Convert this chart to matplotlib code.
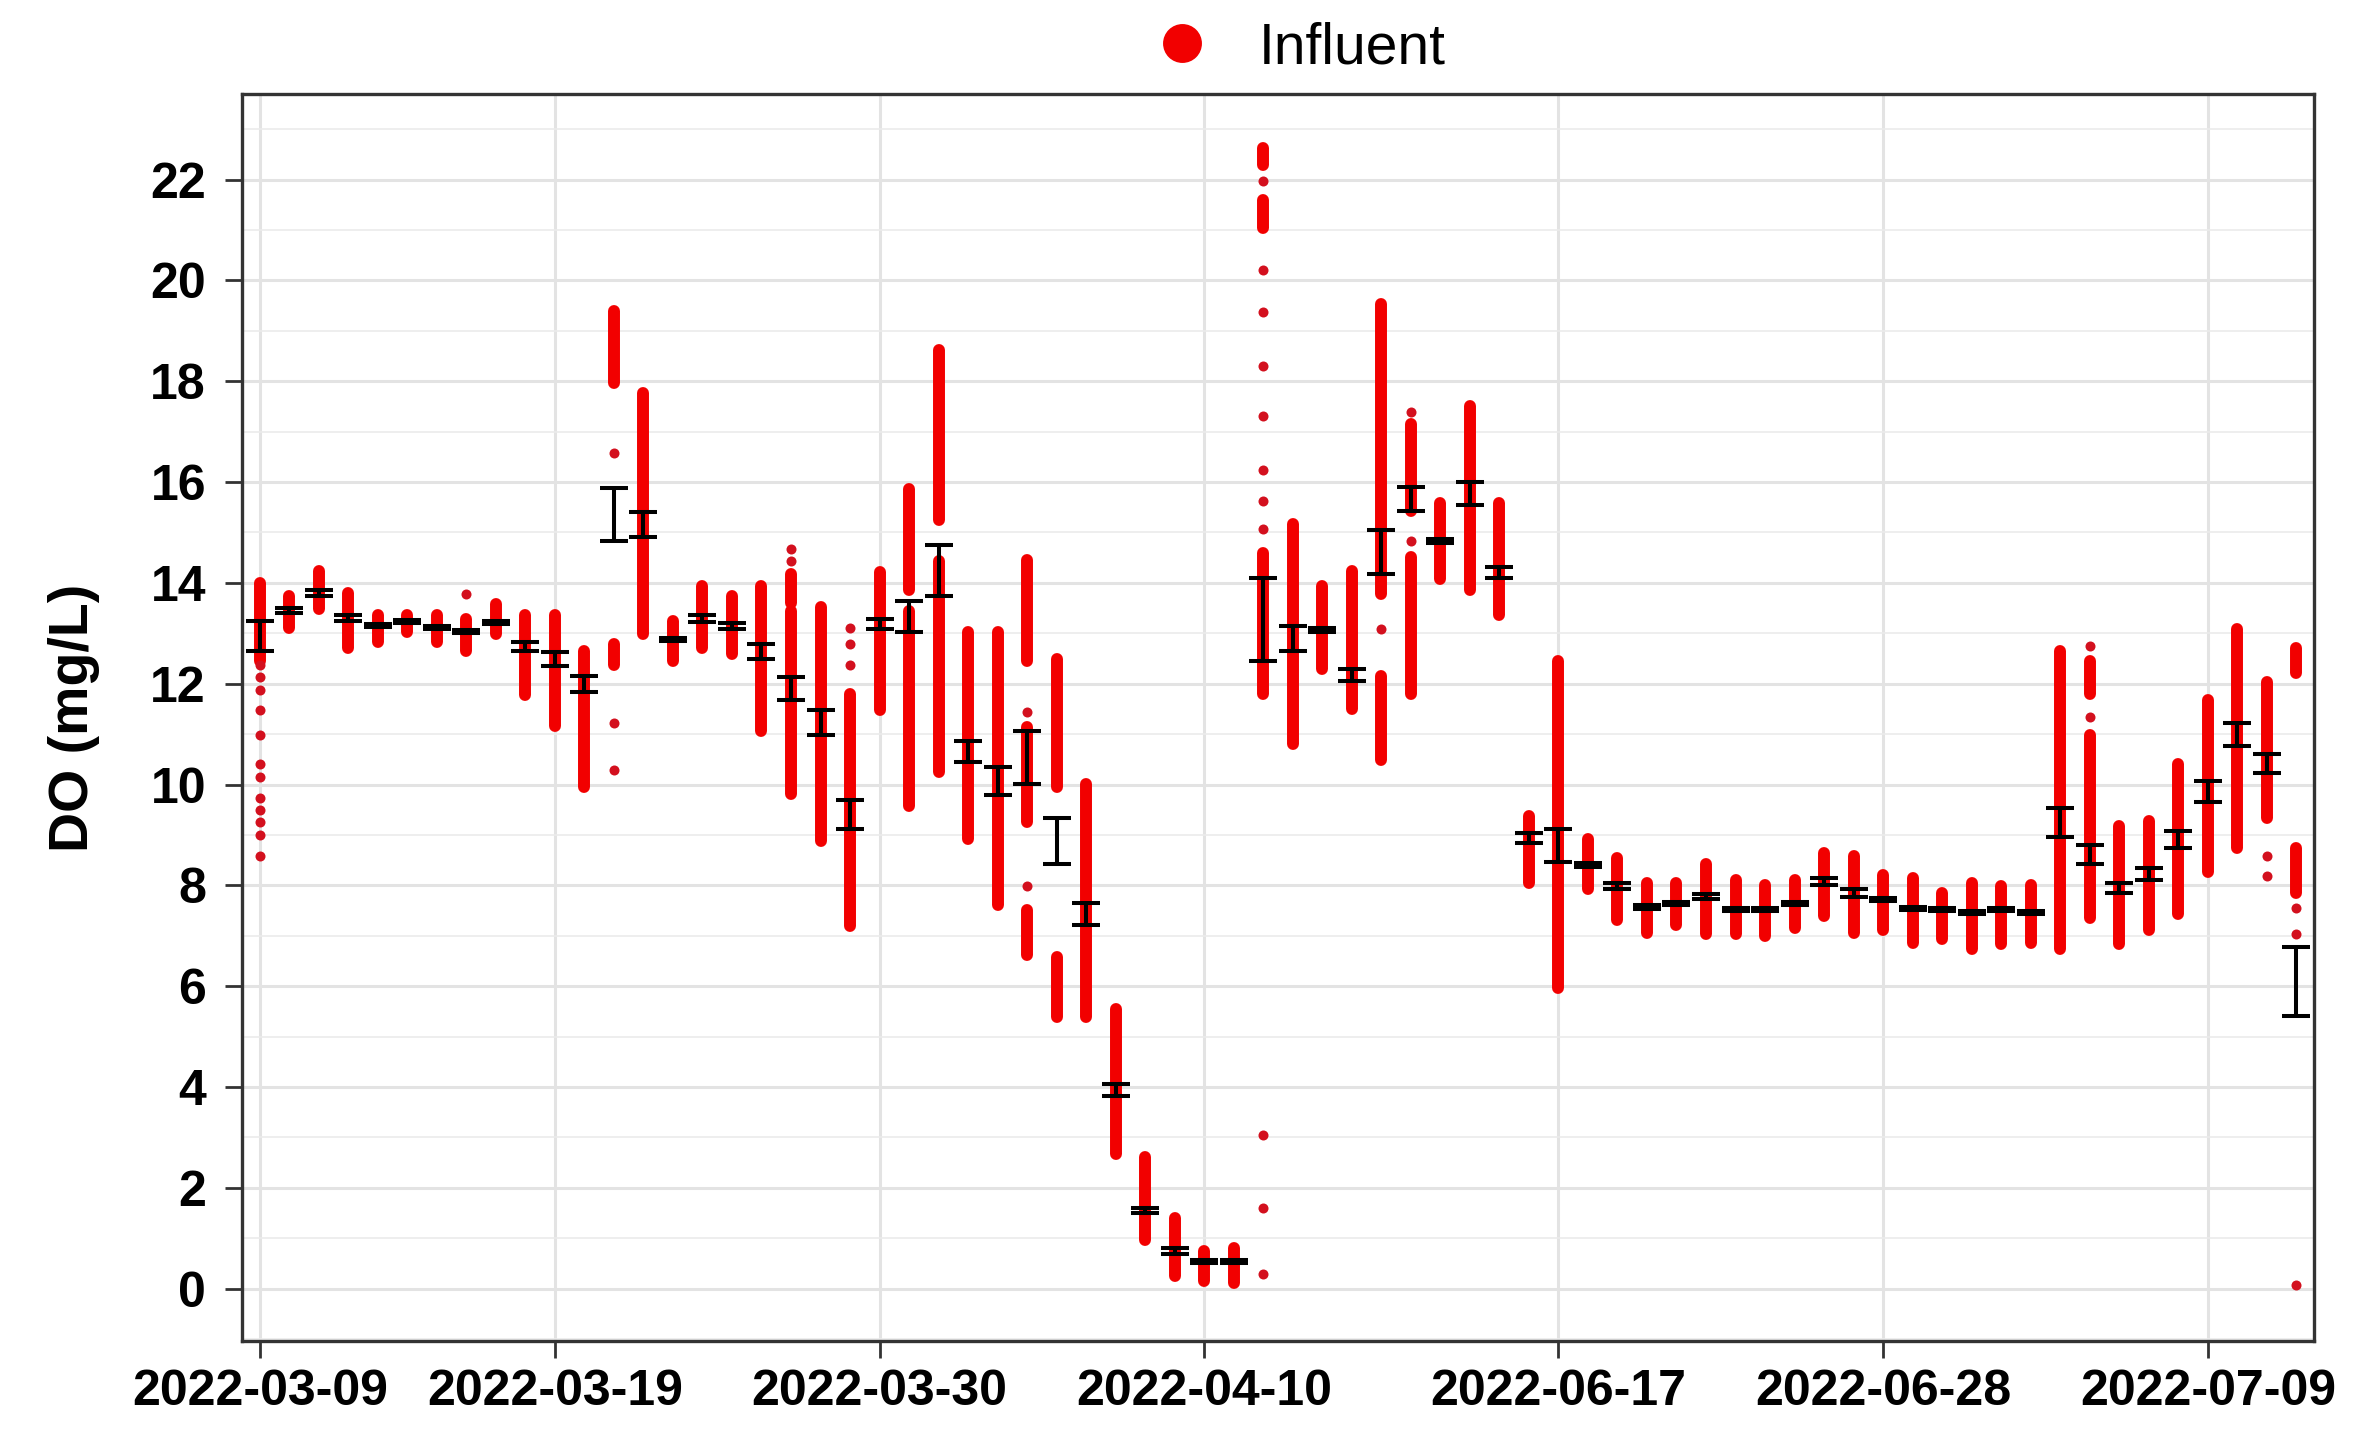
import numpy as np
import pandas as pd
import matplotlib
matplotlib.use("Agg")
import matplotlib.pyplot as plt
from matplotlib.lines import Line2D

plt.rcParams['font.family'] = ['Liberation Sans', 'DejaVu Sans']

# sampling days (categorical axis, gap between April and June)
days = list(pd.date_range('2022-03-09', '2022-04-21').strftime('%Y-%m-%d')) + \
       list(pd.date_range('2022-06-17', '2022-07-12').strftime('%Y-%m-%d'))
tick_labels = ['2022-03-09', '2022-03-19', '2022-03-30', '2022-04-10',
               '2022-06-17', '2022-06-28', '2022-07-09']

# dense runs of measurements (day index, low, high) in mg/L
strip_day = [0, 1, 2, 3, 4, 5, 6, 7, 8, 9, 10, 11, 12, 12, 13, 14, 15, 16, 17, 18, 18,
             19, 20, 21, 22, 22, 23, 23, 24, 25, 26, 26, 26, 27, 27, 28, 29, 30, 31, 32,
             33, 34, 34, 34, 35, 36, 37, 38, 38, 39, 39, 40, 41, 42, 43, 44, 45, 46, 47, 48,
             49, 50, 51, 52, 53, 54, 55, 56, 57, 58, 59, 60, 61, 62, 62, 63, 64, 65, 66,
             67, 68, 69, 69]
strip_lo = [12.45, 13.1, 13.48, 12.7, 12.82, 13.03, 12.82, 12.65, 12.98, 11.77, 11.17,
            9.96, 17.97, 12.37, 12.98, 12.46, 12.7, 12.59, 11.06, 13.61, 9.82,
            8.87, 7.19, 11.47, 13.85, 9.58, 15.25, 10.24, 8.92, 7.6, 12.46, 9.25, 6.61,
            9.96, 5.38, 5.38, 2.67, 0.97, 0.25, 0.15,
            0.12, 22.3, 21.05, 11.8, 10.81, 12.29, 11.5, 13.77, 10.48, 15.42, 11.8, 14.07,
            13.86, 13.36, 8.05, 5.96, 7.93, 7.32, 7.06, 7.22,
            7.03, 7.03, 6.99, 7.16, 7.39, 7.06, 7.11, 6.86, 6.94, 6.73, 6.83, 6.86,
            6.73, 11.8, 7.36, 6.83, 7.11, 7.44, 8.26,
            8.75, 9.33, 12.21, 7.85]
strip_hi = [14.0, 13.74, 14.23, 13.8, 13.36, 13.36, 13.36, 13.28, 13.58, 13.36, 13.36,
            12.65, 19.4, 12.79, 17.76, 13.25, 13.94, 13.74, 13.94, 14.18, 13.44,
            13.53, 11.8, 14.22, 15.86, 13.44, 18.63, 14.43, 13.03, 13.03, 14.46, 11.14, 7.52,
            12.49, 6.57, 10.02, 5.55, 2.62, 1.4, 0.74,
            0.81, 22.62, 21.6, 14.6, 15.17, 13.94, 14.23, 19.53, 12.16, 17.15, 14.51, 15.58,
            17.51, 15.58, 9.38, 12.46, 8.92, 8.54, 8.05, 8.05,
            8.43, 8.1, 8.01, 8.1, 8.64, 8.59, 8.21, 8.15, 7.85, 8.05, 7.98, 8.01,
            12.65, 12.46, 10.98, 9.17, 9.28, 10.4, 11.67,
            13.08, 12.03, 12.7, 8.75]

# isolated measurements
dot_day = [0] * 12 + [7, 12, 12, 12, 18, 18, 20, 20, 20, 26, 26] + [34] * 11 + \
          [38, 39, 39, 62, 62, 68, 68, 69, 69, 69]
dot_val = [12.37, 12.13, 11.88, 11.47, 10.98, 10.4, 10.15, 9.74, 9.49, 9.25, 9.0, 8.59,
           13.77, 16.57, 11.22, 10.28, 14.68, 14.43, 13.11, 12.79, 12.37, 11.44, 7.98,
           21.97, 20.2, 19.37, 18.3, 17.31, 16.24, 15.62, 15.06, 3.04, 1.6, 0.28,
           13.08, 17.39, 14.84, 12.74, 11.34, 8.59, 8.18, 7.55, 7.03, 0.08]

# daily confidence interval of the mean
ci_low = [12.65, 13.4, 13.75, 13.25, 13.12, 13.2, 13.08, 13.0, 13.18, 12.65,
          12.36, 11.83, 14.84, 14.91, 12.84, 13.23, 13.08, 12.49, 11.67, 10.98,
          9.12, 13.08, 13.03, 13.74, 10.45, 9.79, 10.02, 8.43, 7.22, 3.82,
          1.5, 0.69, 0.5, 0.5, 12.46, 12.65, 13.03, 12.05, 14.18, 15.42,
          14.8, 15.55, 14.1, 8.84, 8.47, 8.36, 7.92, 7.54, 7.61, 7.72,
          7.5, 7.49, 7.61, 8.01, 7.77, 7.69, 7.52, 7.49, 7.44, 7.49,
          7.44, 8.95, 8.43, 7.85, 8.1, 8.75, 9.66, 10.76, 10.22, 5.41]
ci_high = [13.25, 13.5, 13.85, 13.36, 13.18, 13.26, 13.14, 13.06, 13.24, 12.82,
           12.62, 12.16, 15.88, 15.4, 12.9, 13.36, 13.2, 12.79, 12.13, 11.47,
           9.69, 13.28, 13.64, 14.76, 10.86, 10.35, 11.06, 9.33, 7.64, 4.06,
           1.6, 0.81, 0.56, 0.56, 14.1, 13.15, 13.1, 12.29, 15.04, 15.91,
           14.88, 16.01, 14.32, 9.03, 9.12, 8.45, 8.04, 7.6, 7.67, 7.82,
           7.56, 7.55, 7.67, 8.15, 7.93, 7.75, 7.58, 7.55, 7.5, 7.55,
           7.5, 9.53, 8.8, 8.05, 8.34, 9.08, 10.07, 11.22, 10.61, 6.78]

red = '#F20000'
dark_red = '#D3101E'

fig = plt.figure(figsize=(11.84, 7.195), dpi=200)
ax = fig.add_axes([0.1022, 0.0681, 0.875, 0.8666])

ax.vlines(strip_day, strip_lo, strip_hi, colors=red, linewidth=4.3,
          capstyle='round', zorder=3)
ax.scatter(dot_day, dot_val, s=13, color=dark_red, linewidths=0, zorder=3)

x = np.arange(len(days))
lo = np.array(ci_low)
hi = np.array(ci_high)
mid = (lo + hi) / 2
ax.errorbar(x, mid, yerr=[mid - lo, hi - mid], fmt='none', ecolor='black',
            elinewidth=1.45, capsize=5, capthick=1.45, zorder=4)

ax.set_xlim(-0.6, len(days) - 0.4)
ax.set_ylim(-1.04, 23.7)
ax.set_xticks([days.index(t) for t in tick_labels])
ax.set_xticklabels(tick_labels)
ax.set_yticks(np.arange(0, 23, 2))
ax.set_yticks(np.arange(-1, 24, 2), minor=True)

ax.grid(which='major', color='#E3E3E3', linewidth=1.1, zorder=0)
ax.grid(which='minor', axis='y', color='#EBEBEB', linewidth=0.6, zorder=0)
ax.set_axisbelow(True)

for s in ax.spines.values():
    s.set_color('#333333')
    s.set_linewidth(1.2)

ax.tick_params(axis='both', which='major', length=6, width=1.0, color='#333333',
               labelsize=18, pad=4)
ax.tick_params(axis='y', which='minor', length=0)
ax.tick_params(axis='y', pad=7)
for lab in ax.get_xticklabels() + ax.get_yticklabels():
    lab.set_fontweight('bold')
    lab.set_color('black')

ax.set_ylabel('DO (mg/L)', fontsize=20, fontweight='bold', labelpad=18)

handle = Line2D([], [], marker='o', linestyle='', color=red, markersize=13,
                label='Influent')
fig.legend(handles=[handle], loc='center', bbox_to_anchor=(0.549, 0.9666),
           frameon=False, handlelength=1.0, handletextpad=0.85, fontsize=20.5,
           borderpad=0, borderaxespad=0)

fig.savefig('out.png', dpi=200)
